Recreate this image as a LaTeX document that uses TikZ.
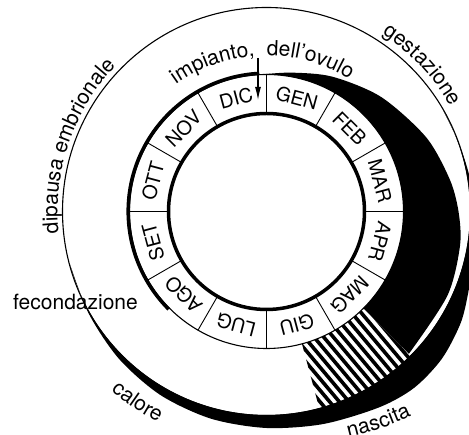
\documentclass[tikz,border=0pt]{standalone}
\usepackage{fontspec}
\setmainfont{TeX Gyre Heros}
\usetikzlibrary{decorations.text,arrows.meta,calc}
\newcommand\lblfont{\fontsize{21}{21}\selectfont}
\newcommand\monfont{\fontsize{19.5}{19.5}\selectfont}
\begin{document}
\begin{tikzpicture}[x=1pt,y=1pt,
  month/.style={font=\monfont, inner sep=0pt},
  lbl/.style={font=\lblfont, inner sep=0pt},
  thinline/.style={line width=1.1pt},
  thickline/.style={line width=3.5pt},
  hatchline/.style={line width=3.6pt},
  curvedtext/.style={decorate, decoration={text along path, text align=left, text={|\lblfont|#1}}}
  ]
\useasboundingbox (0,0) rectangle (469,435);
\coordinate (O) at (266.5,223.5);
\begin{scope}[shift={(O)}]
  % outer band (calore ... gestazione)
  \fill[black] plot[smooth] coordinates {(195:203.5) (210:205) (225:208.5) (240:212) (255:214.5) (270:216.5) (285:220) (300:226) (310:230) (320:229) (330:224) (338:217.5) (350:212) (360:208.5) (370:206) (380:204) (390:203.5)}
     arc[start angle=390, end angle=195, radius=203.5] -- cycle;
  \draw[thinline] (0,0) circle[radius=204];
  % crescent (gestazione)
  \fill[black] plot[smooth] coordinates {(93:137) (80:141) (64:150) (45:162) (25:176) (10:186) (0:192) (-10:196.5) (-25:199.5) (-45:201.3)}
     -- (-45:137) arc[start angle=-45, end angle=93, radius=137] -- cycle;
  % hatched region
  \begin{scope}
    \clip (-45:137) -- (-45:206) arc[start angle=-45, end angle=-75, radius=206] -- (-75:137) arc[start angle=-75, end angle=-45, radius=137] -- cycle;
    \foreach \k in {-18,...,18} {
      \draw[hatchline] ($(-60:170)+(\k*7.4*0.766,\k*7.4*0.643)$) ++(-50:-90) -- ++(-50:180);
    }
  \end{scope}
  % month ring
  \draw[thinline] (0,0) circle[radius=137];
  \draw[thickline] (0,0) circle[radius=98];
  \draw[thickline] (93:138.3) arc[start angle=93, end angle=225, radius=138.3];
  \foreach \a in {0,30,...,330} { \draw[line width=0.9pt] (\a:98) -- (\a:137); }
  \foreach \m [count=\i] in {GEN,FEB,MAR,APR,MAG,GIU,LUG,AGO,SET,OTT,NOV,DIC} {
    \pgfmathsetmacro\ang{105-30*\i}
    \node[month, rotate=\ang-90] (m\i) at (\ang:117.5) {\m};
  }
  % arrow
  \coordinate (arrtop) at (-8.5,153.5);
  \coordinate (arrtip) at (-8.5,111.5);
  \draw[line width=1.1pt, -{Latex[length=13pt,width=6pt]}] (arrtop) -- (arrtip);
  % curved labels
  \path[curvedtext={dipausa embrionale}] (186:209) arc[start angle=186, end angle=120, radius=209];
  \path[curvedtext={impianto,}] (125.5:156) arc[start angle=125.5, end angle=85, radius=156];
  \path[curvedtext={dell'ovulo}] (90:156) arc[start angle=90, end angle=45, radius=156];
  \path[curvedtext={gestazione}] (57:212) arc[start angle=57, end angle=15, radius=212];
  \path[curvedtext={calore}] (229:237) arc[start angle=229, end angle=265, radius=237];
  \path[curvedtext={nascita}] plot[smooth] coordinates {(290:240) (299:246) (308:253) (316:258) (322:261)};
\end{scope}
\node[lbl, anchor=base west] (fec) at (13,125) {fecondazione};
\end{tikzpicture}
\end{document}
